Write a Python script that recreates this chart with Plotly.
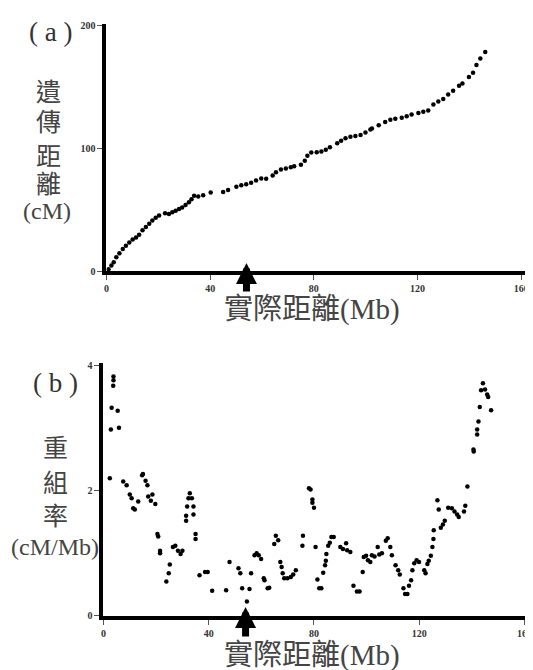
import plotly.graph_objects as go

# Panel (a): physical distance (Mb) vs genetic distance (cM)
phys_a = [0.8, 1.9, 2.8, 3.8, 5.0, 6.3, 7.5, 8.8, 10.1, 11.4, 12.6, 13.9, 15.2, 16.5, 17.7,
          19.0, 20.3, 22.6, 24.1, 25.4, 26.7, 28.0, 29.2, 30.5, 31.8, 32.8, 33.8, 35.4, 37.3,
          40.2, 45.0, 46.9, 50.1, 52.0, 53.9, 55.8, 57.7, 59.7, 61.6, 64.1, 65.4, 67.3, 69.2,
          71.1, 72.4, 75.0, 76.5, 77.5, 79.0, 81.1, 82.9, 84.6, 86.2, 89.0, 90.5, 92.2, 94.1,
          96.0, 98.0, 99.9, 101.8, 102.4, 105.0, 107.5, 109.5, 111.4, 113.9, 115.8, 117.7,
          120.3, 122.2, 124.1, 126.1, 128.0, 129.9, 131.8, 133.7, 136.0, 137.3, 139.8, 141.4,
          142.7, 144.2, 146.1]
gen_a = [1.5, 4.6, 7.2, 11.2, 14.5, 17.9, 20.6, 23.3, 25.7, 27.3, 29.7, 33.2, 35.9, 38.6, 41.2,
         43.4, 45.2, 47.1, 46.6, 47.9, 49.2, 50.6, 51.9, 53.8, 56.0, 58.6, 61.3, 60.8, 61.8,
         64.0, 64.5, 66.1, 68.8, 69.9, 70.7, 72.0, 73.9, 75.5, 75.2, 77.9, 80.6, 82.7, 83.5,
         84.6, 85.4, 86.7, 90.0, 94.0, 96.6, 96.9, 97.4, 98.8, 101.0, 104.2, 106.3, 108.2, 109.5,
         110.0, 110.8, 113.0, 115.4, 116.2, 118.9, 121.5, 123.4, 124.2, 125.0, 126.1, 127.7,
         128.8, 129.9, 130.9, 135.7, 138.2, 140.3, 143.8, 147.0, 151.0, 152.9, 158.2, 161.7,
         167.9, 173.3, 178.6]

# Panel (b): physical distance (Mb) vs recombination rate (cM/Mb)
phys_b = [2.4, 2.8, 3.1, 3.7, 3.8, 3.8, 5.4, 5.9, 7.5, 8.8, 10.0, 10.7, 11.3, 11.9, 13.2,
          14.7, 15.0, 16.0, 16.7, 17.0, 18.0, 18.6, 19.7, 20.5, 20.8, 21.5, 21.5, 23.9, 24.8,
          25.2, 26.4, 27.3, 28.3, 29.3, 30.0, 31.4, 31.4, 31.8, 32.3, 32.8, 33.6, 34.2, 34.2,
          35.0, 35.0, 36.5, 38.6, 39.6, 41.3, 46.6, 47.9, 51.3, 52.0, 52.7, 54.5, 55.5, 56.1,
          57.4, 58.2, 59.0, 59.9, 60.9, 61.2, 62.4, 63.0, 64.9, 65.5, 66.4, 67.2, 67.7, 68.1,
          68.7, 69.9, 71.2, 72.1, 73.1, 75.6, 75.8, 78.1, 78.7, 79.4, 79.4, 80.0, 80.6, 81.3,
          82.0, 82.8, 83.5, 84.2, 84.5, 84.7, 85.4, 86.0, 86.6, 87.5, 90.0, 91.0, 92.2, 92.6,
          93.8, 95.0, 96.3, 97.3, 98.5, 98.9, 99.8, 100.5, 101.4, 102.0, 103.0, 104.2, 104.8,
          105.8, 107.3, 108.0, 109.0, 109.6, 111.0, 112.0, 112.6, 114.0, 114.6, 115.5, 116.1,
          116.9, 117.4, 118.1, 119.0, 119.9, 121.9, 122.4, 123.1, 123.6, 124.4, 125.0, 125.4,
          125.5, 126.9, 127.4, 128.2, 129.0, 129.7, 131.0, 132.4, 133.4, 134.4, 135.0, 137.0,
          137.5, 138.3, 140.6, 140.7, 142.0, 142.0, 142.5, 143.0, 143.5, 144.2, 145.0, 145.8,
          146.2, 147.3]
rate_b = [2.20, 2.98, 3.33, 3.68, 3.77, 3.83, 3.28, 3.01, 2.15, 2.09, 1.94, 1.88, 1.72, 1.70, 1.83,
          2.25, 2.27, 2.16, 2.09, 1.91, 1.84, 1.94, 1.79, 1.31, 1.27, 1.04, 1.00, 0.55, 0.68,
          0.82, 1.10, 1.12, 1.04, 0.99, 1.04, 1.52, 1.60, 1.75, 1.88, 1.96, 1.88, 1.75, 1.62,
          1.31, 1.23, 0.65, 0.70, 0.70, 0.40, 0.41, 0.86, 0.76, 0.68, 0.44, 0.23, 0.43, 0.68,
          0.97, 1.00, 0.97, 0.91, 0.60, 0.57, 0.44, 0.45, 1.15, 1.28, 1.21, 0.86, 0.78, 0.68,
          0.60, 0.60, 0.62, 0.66, 0.73, 1.12, 1.28, 2.04, 2.02, 1.86, 1.81, 1.73, 1.10, 0.58,
          0.44, 0.44, 0.69, 0.81, 0.88, 0.99, 1.12, 1.17, 1.26, 1.26, 1.10, 1.07, 1.16, 1.05,
          1.02, 0.48, 0.39, 0.39, 0.70, 0.94, 0.96, 0.89, 0.86, 0.97, 0.95, 1.10, 0.98,
          1.00, 1.20, 1.24, 1.10, 0.97, 0.81, 0.73, 0.66, 0.44, 0.35, 0.35, 0.48,
          0.57, 0.73, 0.84, 0.89, 0.86, 0.73, 0.68, 0.83, 0.88, 0.96, 1.10, 1.23,
          1.37, 1.85, 1.70, 1.41, 1.46, 1.52, 1.73, 1.72, 1.67, 1.62, 1.58, 1.67,
          1.76, 2.07, 2.66, 2.63, 2.90, 2.98, 3.11, 3.34, 3.61, 3.72, 3.62, 3.54,
          3.50, 3.29]

x_ticks = [0, 40, 80, 120, 160]
ya_ticks = [0, 100, 200]
yb_ticks = [0, 2, 4]
arrow_mb = 54

ya_title_chars = ["遺", "傳", "距", "離"]
yb_title_chars = ["重", "組", "率"]

W, H = 533, 670
def px_x(p):
    return p / W
def px_y(p):
    return 1 - p / H

fig = go.Figure()
marker = dict(color="black", size=4.5)
fig.add_trace(go.Scatter(x=phys_a, y=gen_a, mode="markers", marker=marker,
                         xaxis="x", yaxis="y", showlegend=False))
fig.add_trace(go.Scatter(x=phys_b, y=rate_b, mode="markers", marker=marker,
                         xaxis="x2", yaxis="y2", showlegend=False))

tickfont = dict(family="Liberation Serif", size=10, color="#333333", weight="bold")
axis_common = dict(showline=True, linewidth=4, linecolor="black", showgrid=False,
                   zeroline=False, ticks="outside", ticklen=5, tickwidth=1,
                   tickcolor="#555555", tickfont=tickfont)

fig.update_layout(
    width=W, height=H, margin=dict(l=0, r=0, t=0, b=0),
    paper_bgcolor="white", plot_bgcolor="white",
    xaxis=dict(domain=[px_x(96), px_x(521)], range=[0, 163], tickvals=x_ticks,
               anchor="y", **axis_common),
    yaxis=dict(domain=[px_y(263), px_y(12)], range=[0, 201.5], tickvals=ya_ticks,
               anchor="x", **axis_common),
    xaxis2=dict(domain=[px_x(93), px_x(527)], range=[0, 164], tickvals=x_ticks,
                anchor="y2", **axis_common),
    yaxis2=dict(domain=[px_y(613), px_y(356)], range=[0, 4.05], tickvals=yb_ticks,
                anchor="x2", **axis_common),
)

lab_font = dict(family="Liberation Serif", size=27, color="#333333")
cjk_font = dict(family="Noto Sans CJK TC", size=25, color="#444444")
unit_font = dict(family="Liberation Serif", size=24, color="#444444")
xt_font = dict(family="Liberation Serif, Noto Sans CJK TC", size=29, color="#444444")

def label(text, xp, yp, font):
    return dict(text=text, x=px_x(xp), y=px_y(yp), xref="paper", yref="paper",
                xanchor="center", yanchor="middle", showarrow=False, font=font)

ann = []
ann.append(label("( a )", 40, 20, lab_font))
ann.append(label("( b )", 45, 377, lab_font))
for ch, yp in zip(ya_title_chars, [79, 110, 144, 173]):
    ann.append(label(ch, 38, yp, cjk_font))
ann.append(label("(cM)", 36, 202, unit_font))
for ch, yp in zip(yb_title_chars, [441, 476, 510]):
    ann.append(label(ch, 45, yp, cjk_font))
ann.append(label("(cM/Mb)", 44, 543, unit_font))
ann.append(label("實際距離(Mb)", 303, 302, xt_font))
ann.append(label("實際距離(Mb)", 303, 653, xt_font))
# arrows marking the centromere
ann.append(dict(text="", x=arrow_mb, y=6.5, xref="x", yref="y", ax=0, ay=30,
                showarrow=True, arrowhead=2, arrowwidth=7, arrowsize=0.6,
                arrowcolor="black"))
ann.append(dict(text="", x=arrow_mb, y=0.14, xref="x2", yref="y2", ax=0, ay=31,
                showarrow=True, arrowhead=2, arrowwidth=7, arrowsize=0.6,
                arrowcolor="black"))
fig.update_layout(annotations=ann)

fig.write_html("out.html")
